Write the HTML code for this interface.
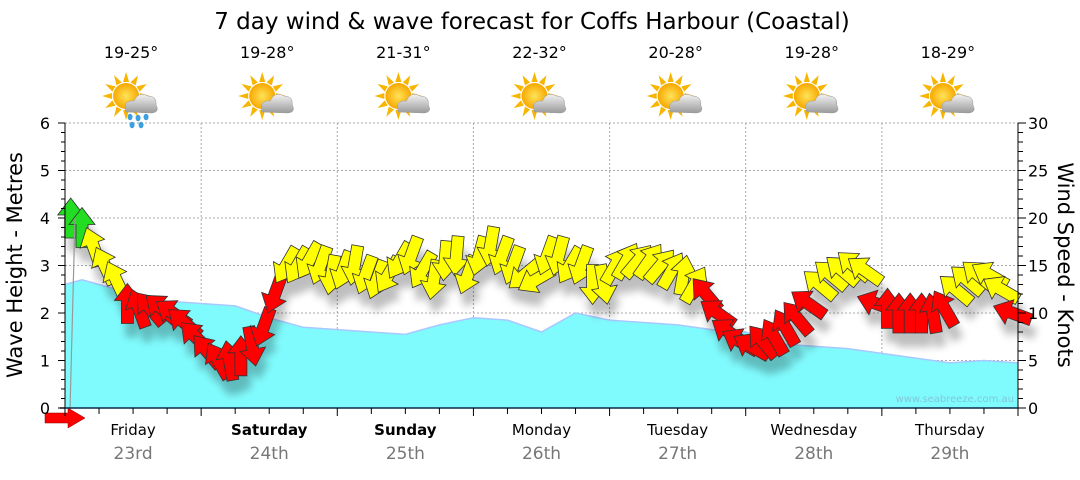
<!DOCTYPE html>
<html><head><meta charset="utf-8">
<style>
body{margin:0;background:#fff;font-family:"Liberation Sans",sans-serif;}
svg text{font-family:"DejaVu Sans","Liberation Sans",sans-serif;}
</style></head>
<body>
<svg id="c" width="1080" height="475" viewBox="0 0 1080 475" xmlns="http://www.w3.org/2000/svg">
<defs>
<radialGradient id="sun" cx="50%" cy="50%" r="50%"><stop offset="0" stop-color="#ffe35a"/><stop offset="1" stop-color="#f7a800"/></radialGradient>
<linearGradient id="cloud" x1="0" y1="0" x2="0" y2="1"><stop offset="0" stop-color="#f2f2f2"/><stop offset="1" stop-color="#9a9a9a"/></linearGradient>
<filter id="sh" x="-50%" y="-50%" width="200%" height="200%"><feGaussianBlur stdDeviation="4"/></filter>
</defs>
<text x="532" y="29" font-size="23" text-anchor="middle" fill="#000">7 day wind &amp; wave forecast for Coffs Harbour (Coastal)</text>
<g id="grid"></g>
<g id="wave"></g>
<g id="shadows" filter="url(#sh)" opacity="0.25"></g>
<g id="arrows"></g>
<g id="axes"></g>
<g id="icons"></g>
<text x="1014" y="402" font-size="10" fill="#7fc8d8" text-anchor="end">www.seabreeze.com.au</text>
<text transform="translate(22,265) rotate(-90)" font-size="21" text-anchor="middle">Wave Height - Metres</text>
<text transform="translate(1058,265) rotate(90)" font-size="21" text-anchor="middle">Wind Speed - Knots</text>
</svg>
<script>
const days=["Friday","Saturday","Sunday","Monday","Tuesday","Wednesday","Thursday"];
const dates=["23rd","24th","25th","26th","27th","28th","29th"];
const temps=["19-25°","19-28°","21-31°","22-32°","20-28°","19-28°","18-29°"];
const boldDays=[false,true,true,false,false,false,false];
const waveHours=[0,3,6,12,18,24,30,36,42,48,54,60,66,72,78,84,90,96,102,108,114,120,126,132,138,144,150,156,162,168];
const waveHeights=[2.6,2.7,2.6,2.4,2.25,2.2,2.15,1.9,1.7,1.65,1.6,1.55,1.75,1.9,1.85,1.6,2.0,1.85,1.8,1.75,1.65,1.6,1.35,1.3,1.25,1.15,1.05,0.95,1.0,0.95];
const windHours=[1,3,5,7,9,11,13,15,17,19,21,23,25,27,29,31,33,35,37,39,41,43,45,47,49,51,53,55,57,59,61,63,65,67,69,71,73,75,77,79,81,83,85,87,89,91,93,95,97,99,101,103,105,107,109,111,113,115,117,119,121,123,125,127,129,131,133,135,137,139,141,143,145,147,149,151,153,155,157,159,161,163,165,167];
const windSpeeds=[20,19,17,15,13.5,11,10.5,10.5,10.5,10,9,7.5,6,5,5,5.5,6.5,8.5,12,15,15,15.5,15,14,14.5,15,14,13.5,14,15.5,16,14.5,13.5,15.5,16,14,16,17,16,15,14,13.5,16,16,15,15,13,13,15,15.5,15.5,15.5,15,14.5,14,13,12,10,8,7,6.5,7,7.5,8.5,9.5,11,13,14,14.5,15,14.5,11,10.5,10,10,10,10,10.5,12.5,13.5,14,14,12.5,10];
const windDirs=[0,0,-20,-25,-25,0,-20,-40,-50,-55,-50,-45,-40,-30,-10,0,170,200,200,210,210,210,200,190,200,190,200,200,210,210,200,210,190,185,185,200,195,190,200,200,230,240,200,195,210,200,180,170,30,30,40,35,40,30,10,30,-40,-55,-55,-60,-60,-40,-30,-30,-40,-55,-50,-50,-50,-50,-55,-70,0,0,0,0,-10,-30,-50,-50,-50,-60,-60,-70];

const NS="http://www.w3.org/2000/svg";
const X0=65,X1=1018,Y0=408,Y6=123;
const xh=h=>X0+h*(X1-X0)/168;
const ym=m=>Y0-m*(Y0-Y6)/6;
const yk=k=>Y0-k*(Y0-Y6)/30;
function mk(tag,attrs,parent){const e=document.createElementNS(NS,tag);for(const k in attrs)e.setAttribute(k,attrs[k]);parent.appendChild(e);return e;}
const grid=document.getElementById('grid'),axes=document.getElementById('axes');
for(let m=1;m<=6;m++){const l=mk('line',{x1:X0,x2:X1,y1:ym(m),y2:ym(m),stroke:'#aaa','stroke-dasharray':'2,2'},grid);

}
for(let d=1;d<7;d++){const l=mk('line',{x1:xh(d*24),x2:xh(d*24),y1:Y6,y2:Y0,stroke:'#aaa','stroke-dasharray':'2,2'},grid);

}
const wg=document.getElementById('wave');
let pts=waveHours.map((h,i)=>xh(h).toFixed(1)+','+ym(waveHeights[i]).toFixed(1));
const area=mk('polygon',{points:xh(0)+','+Y0+' '+pts.join(' ')+' '+xh(168)+','+Y0,fill:'#80fbfd'},wg);


const wl=mk('polyline',{points:pts.join(' '),fill:'none',stroke:'#a8c8ff','stroke-width':1.5},wg);


const ag=document.getElementById('arrows'),sg=document.getElementById('shadows');
const arrowPath="M0,-20 L13,-3 L6,-3 L6,20 L-6,20 L-6,-3 L-13,-3 Z";
function col(k){return k>=18.5?'#22dd22':(k>=12.5?'#ffff00':'#ff0000');}
windHours.forEach((h,i)=>{
  const x=xh(h),y=yk(windSpeeds[i]);
  mk('path',{d:arrowPath,fill:'#000',transform:`translate(${x+4},${y+14}) rotate(${windDirs[i]})`},sg);
  const p=mk('path',{d:arrowPath,fill:col(windSpeeds[i]),stroke:'#333','stroke-width':0.8,'stroke-linejoin':'miter',transform:`translate(${x.toFixed(1)},${y.toFixed(1)}) rotate(${windDirs[i]})`},ag);
  
  
});
mk('line',{x1:70,y1:410,x2:75,y2:yk(20),stroke:'#999','stroke-width':1.2},ag);
const ba=mk('path',{d:"M45,413 L68,413 L68,408 L85,418 L68,428 L68,423 L45,423 Z",fill:'#f00',stroke:'#800','stroke-width':0.5},ag);


mk('line',{x1:X0,x2:X0,y1:Y6,y2:Y0,stroke:'#000'},axes);
mk('line',{x1:X1,x2:X1,y1:Y6,y2:Y0,stroke:'#000'},axes);
mk('line',{x1:X0-5,x2:X1,y1:Y0,y2:Y0,stroke:'#0a2a4a','stroke-width':1.5},axes);
for(let i=0;i<=30;i++){const y=ym(i*0.2);mk('line',{x1:X0-(i%5==0?7:4),x2:X0,y1:y,y2:y,stroke:'#000'},axes);}
for(let m=0;m<=6;m++){const t=mk('text',{x:50,y:ym(m)+6,'font-size':16,'text-anchor':'end'},axes);t.textContent=m;

}
for(let k=0;k<=30;k++){const y=yk(k);mk('line',{x1:X1,x2:X1+(k%5==0?8:5),y1:y,y2:y,stroke:'#000'},axes);}
for(let k=0;k<=30;k+=5){const t=mk('text',{x:1028,y:yk(k)+6,'font-size':16},axes);t.textContent=k;

}
for(let h=0;h<=168;h+=6){mk('line',{x1:xh(h),x2:xh(h),y1:Y0,y2:Y0+(h%24==0?8:6),stroke:'#000'},axes);}
days.forEach((d,i)=>{
  const cx=xh(i*24+12);
  const t=mk('text',{x:cx,y:435,'font-size':15,'text-anchor':'middle','font-weight':boldDays[i]?'bold':'normal'},axes);t.textContent=d;
  
  
  const t2=mk('text',{x:cx,y:459,'font-size':17,'text-anchor':'middle',fill:'#777'},axes);t2.textContent=dates[i];
  
  
  const t3=mk('text',{x:cx-2,y:58,'font-size':16,'text-anchor':'middle'},axes);t3.textContent=temps[i];
  
  
  const ig=mk('g',{transform:`translate(${cx-1},98)`},document.getElementById('icons'));
  
  
  for(let r=0;r<12;r++){mk('polygon',{points:"-3,-14 0,-24 3,-14",fill:'#f7b500',transform:`translate(-6,-2) rotate(${r*30})`},ig);}
  mk('circle',{cx:-6,cy:-2,r:13,fill:'url(#sun)'},ig);
  mk('path',{d:"M-6,14 Q-10,2 2,3 Q6,-7 16,-2 Q25,-2 24,7 Q28,14 20,15 Z",fill:'url(#cloud)',stroke:'#999','stroke-width':0.5},ig);
  if(i==0){[[-2,19],[6,20],[14,19],[0,27],[9,27]].forEach(p=>mk('ellipse',{cx:p[0],cy:p[1],rx:2.5,ry:3.2,fill:'#3aa0e0'},ig));}
});
</script>
</body></html>
